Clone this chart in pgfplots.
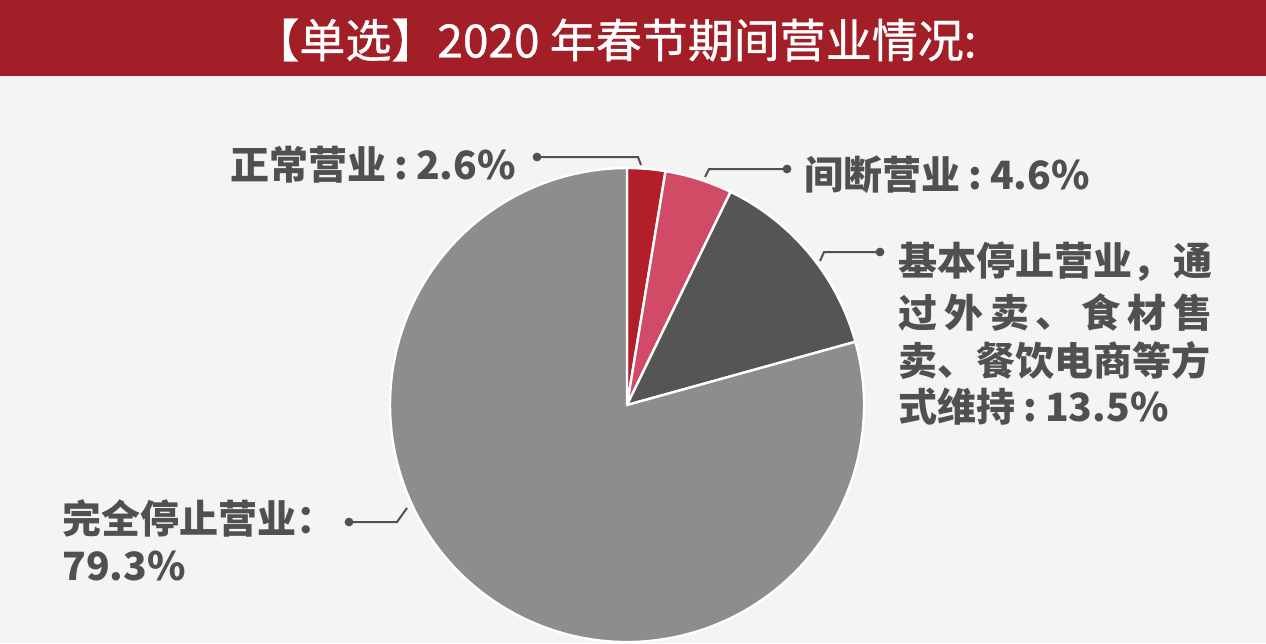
\documentclass[border=0pt]{standalone}
\usepackage{pgfplots}
\usepackage{pgfplotstable}
\pgfplotsset{compat=1.18}
\usepackage{fontspec}
\setmainfont{Noto Sans CJK SC}
\newfontfamily\titlefont{Noto Sans CJK SC}[FakeBold=0.8]
\definecolor{bgc}{HTML}{F4F4F4}
\definecolor{titlered}{HTML}{A31F28}
\definecolor{sA}{HTML}{B21F2B}
\definecolor{sB}{HTML}{D24B66}
\definecolor{sC}{HTML}{555555}
\definecolor{sD}{HTML}{8D8D8D}
\definecolor{txt}{HTML}{505050}
\newcommand{\cln}{\hspace{4pt}:\hspace{4pt}}
\pgfplotstableread{
share
2.6
4.6
13.5
79.3
}\piedata
\begin{document}
\begin{tikzpicture}
\pgfplotstablegetelem{0}{share}\of\piedata \let\vA\pgfplotsretval
\pgfplotstablegetelem{1}{share}\of\piedata \let\vB\pgfplotsretval
\pgfplotstablegetelem{2}{share}\of\piedata \let\vC\pgfplotsretval
\pgfplotstablegetelem{3}{share}\of\piedata \let\vD\pgfplotsretval
\pgfmathsetmacro\aA{90}
\pgfmathsetmacro\aB{\aA-3.6*\vA}
\pgfmathsetmacro\aC{\aB-3.6*\vB}
\pgfmathsetmacro\aD{\aC-3.6*\vC}
\pgfmathsetmacro\aE{\aD-3.6*\vD}
\begin{axis}[width=633pt,height=321.5pt,scale only axis,
  xmin=0,xmax=1266,ymin=0,ymax=643,y dir=reverse,hide axis,clip=true]
\fill[bgc] (axis cs:0,0) rectangle (axis cs:1266,643);
\fill[titlered] (axis cs:0,0) rectangle (axis cs:1266,76);
\node[white,inner sep=0,font=\titlefont\fontsize{23pt}{27pt}\selectfont] at (axis cs:615,40) {【单选】2020 年春节期间营业情况:};
% pie
\fill[sA,draw=white,line width=1.2pt,line join=round] (axis cs:627,405) -- ++(\aA:118.5pt) arc[start angle=\aA,end angle=\aB,radius=118.5pt] -- cycle;
\fill[sB,draw=white,line width=1.2pt,line join=round] (axis cs:627,405) -- ++(\aB:118.5pt) arc[start angle=\aB,end angle=\aC,radius=118.5pt] -- cycle;
\fill[sC,draw=white,line width=1.2pt,line join=round] (axis cs:627,405) -- ++(\aC:118.5pt) arc[start angle=\aC,end angle=\aD,radius=118.5pt] -- cycle;
\fill[sD,draw=white,line width=1.2pt,line join=round] (axis cs:627,405) -- ++(\aD:118.5pt) arc[start angle=\aD,end angle=\aE,radius=118.5pt] -- cycle;
% leaders
\begin{scope}[txt,line width=1pt]
\draw (axis cs:537,157) -- (axis cs:638,157) -- (axis cs:641,165);
\fill (axis cs:537,157) circle[radius=2.2pt];
\draw (axis cs:787,169) -- (axis cs:709,169) -- (axis cs:705,177);
\fill (axis cs:787,169) circle[radius=2.2pt];
\draw (axis cs:880,252) -- (axis cs:824,252) -- (axis cs:820,261);
\fill (axis cs:880,252) circle[radius=2.2pt];
\draw (axis cs:349,522) -- (axis cs:397,522) -- (axis cs:407,508);
\fill (axis cs:349,522) circle[radius=2.2pt];
\end{scope}
% labels
\begin{scope}[every node/.style={txt,inner sep=0,anchor=west,font=\fontsize{19.5pt}{24pt}\selectfont\bfseries}]
\node at (axis cs:230,165) {正常营业\cln 2.6\%};
\node at (axis cs:804,175) {间断营业\cln 4.6\%};
\node at (axis cs:898,262) {\hbox to 157pt{基本停止营业，\hfill 通}};
\node at (axis cs:898,312) {\hbox to 157pt{过\hfill 外\hfill 卖\hfill 、\hfill 食\hfill 材\hfill 售}};
\node at (axis cs:898,360) {\hbox to 157pt{卖、餐饮电商等方}};
\node at (axis cs:898,407) {式维持\cln 13.5\%};
\node at (axis cs:62,518) {完全停止营业：};
\node at (axis cs:62,566) {79.3\%};
\end{scope}
\end{axis}
\end{tikzpicture}
\end{document}
